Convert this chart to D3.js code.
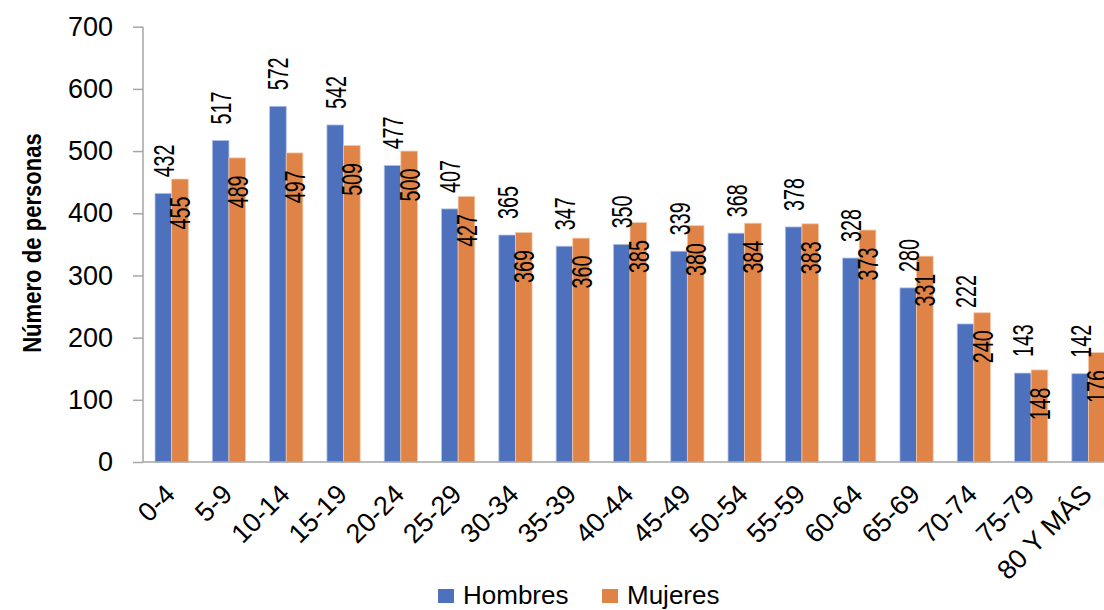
<!DOCTYPE html>
<html lang="es">
<head>
<meta charset="UTF-8">
<title>Número de personas por grupo de edad</title>
<script src="https://d3js.org/d3.v7.min.js"></script>
<style>
    body { margin: 0; background: #fff; }
    text { font-family: "Liberation Sans", Arial, sans-serif; fill: #000; }
    .tick-label { font-size: 27px; }
    .cat-label { font-size: 27px; }
    .val-label { font-size: 29px; }
    .axis-title { font-size: 26px; font-weight: bold; }
    .legend text { font-size: 26px; }
</style>
</head>
<body>
<svg width="1104" height="610"></svg>
<script>
    // Data
    const categories = ["0-4", "5-9", "10-14", "15-19", "20-24", "25-29", "30-34", "35-39",
        "40-44", "45-49", "50-54", "55-59", "60-64", "65-69", "70-74", "75-79", "80 Y MÁS"];
    const hombres = [432, 517, 572, 542, 477, 407, 365, 347, 350, 339, 368, 378, 328, 280, 222, 143, 142];
    const mujeres = [455, 489, 497, 509, 500, 427, 369, 360, 385, 380, 384, 383, 373, 331, 240, 148, 176];
    const yTicks = [0, 100, 200, 300, 400, 500, 600, 700];
    const seriesNames = ["Hombres", "Mujeres"];
    const colors = ["#4e71be", "#df8346"];
    const strokes = ["#b3c2e6", "#f3c7a6"];

    const svg = d3.select("svg");

    // plot area
    const x0 = 143, yZero = 462, yTop = 26.7;
    const step = 57.3;

    const x = d3.scaleBand()
        .domain(categories)
        .range([x0, x0 + step * categories.length])
        .paddingInner(0.42)
        .paddingOuter(0.21);

    const xs = d3.scaleBand()
        .domain(seriesNames)
        .range([0, x.bandwidth()]);

    const y = d3.scaleLinear()
        .domain([0, 700])
        .range([yZero, yTop]);

    // Y axis
    const yAxis = svg.append("g")
        .attr("transform", `translate(${x0},0)`)
        .call(d3.axisLeft(y).tickValues(yTicks).tickSize(10).tickPadding(20));
    yAxis.select(".domain").attr("stroke", "#a6a6a6").attr("stroke-width", 1.5)
        .attr("d", `M0,${yTop}V${yZero}`);
    yAxis.selectAll(".tick line").attr("stroke", "#a6a6a6").attr("stroke-width", 1.5);
    yAxis.selectAll(".tick text").attr("class", "tick-label")
        .attr("font-size", null).attr("font-family", null);

    svg.append("text")
        .attr("class", "axis-title")
        .attr("transform", "translate(41,243) rotate(-90) scale(0.85,1)")
        .attr("text-anchor", "middle")
        .text("Número de personas");

    // bars
    const groups = svg.append("g").selectAll("g")
        .data(categories)
        .join("g")
        .attr("transform", d => `translate(${x(d)},0)`);

    const barData = (d, i) => [
        { s: 0, v: hombres[i] },
        { s: 1, v: mujeres[i] }
    ];

    groups.selectAll("rect")
        .data(barData)
        .join("rect")
        .attr("x", d => xs(seriesNames[d.s]))
        .attr("width", xs.bandwidth())
        .attr("y", d => y(d.v))
        .attr("height", d => yZero - y(d.v))
        .attr("fill", d => colors[d.s])
        .attr("stroke", d => strokes[d.s])
        .attr("stroke-width", 0.8);

    // value labels (Hombres above bar, Mujeres inside top)
    groups.selectAll("text.val-label")
        .data(barData)
        .join("text")
        .attr("class", "val-label")
        .attr("text-anchor", d => d.s === 0 ? "start" : "end")
        .attr("transform", d => {
            const cx = xs(seriesNames[d.s]) + xs.bandwidth() / 2 + 10.5;
            const cy = d.s === 0 ? y(d.v) - 16 : y(d.v) + 17.5;
            return `translate(${cx},${cy}) rotate(-90) scale(0.68,1)`;
        })
        .text(d => d.v);

    // X axis
    svg.append("line")
        .attr("x1", x0).attr("x2", 1104)
        .attr("y1", yZero).attr("y2", yZero)
        .attr("stroke", "#a6a6a6").attr("stroke-width", 1.5);

    svg.append("g").selectAll("text")
        .data(categories)
        .join("text")
        .attr("class", "cat-label")
        .attr("text-anchor", "end")
        .attr("transform", d => `translate(${x(d) + x.bandwidth() / 2 + 5},${yZero + 34}) rotate(-45)`)
        .text(d => d);

    // legend
    const legendX = [438, 602];
    const legend = svg.append("g").attr("class", "legend")
        .selectAll("g")
        .data(seriesNames)
        .join("g")
        .attr("transform", (d, i) => `translate(${legendX[i]},589)`);
    legend.append("rect")
        .attr("width", 16).attr("height", 14)
        .attr("fill", (d, i) => colors[i]);
    legend.append("text")
        .attr("x", 25).attr("y", 15)
        .text(d => d);
</script>
</body>
</html>
